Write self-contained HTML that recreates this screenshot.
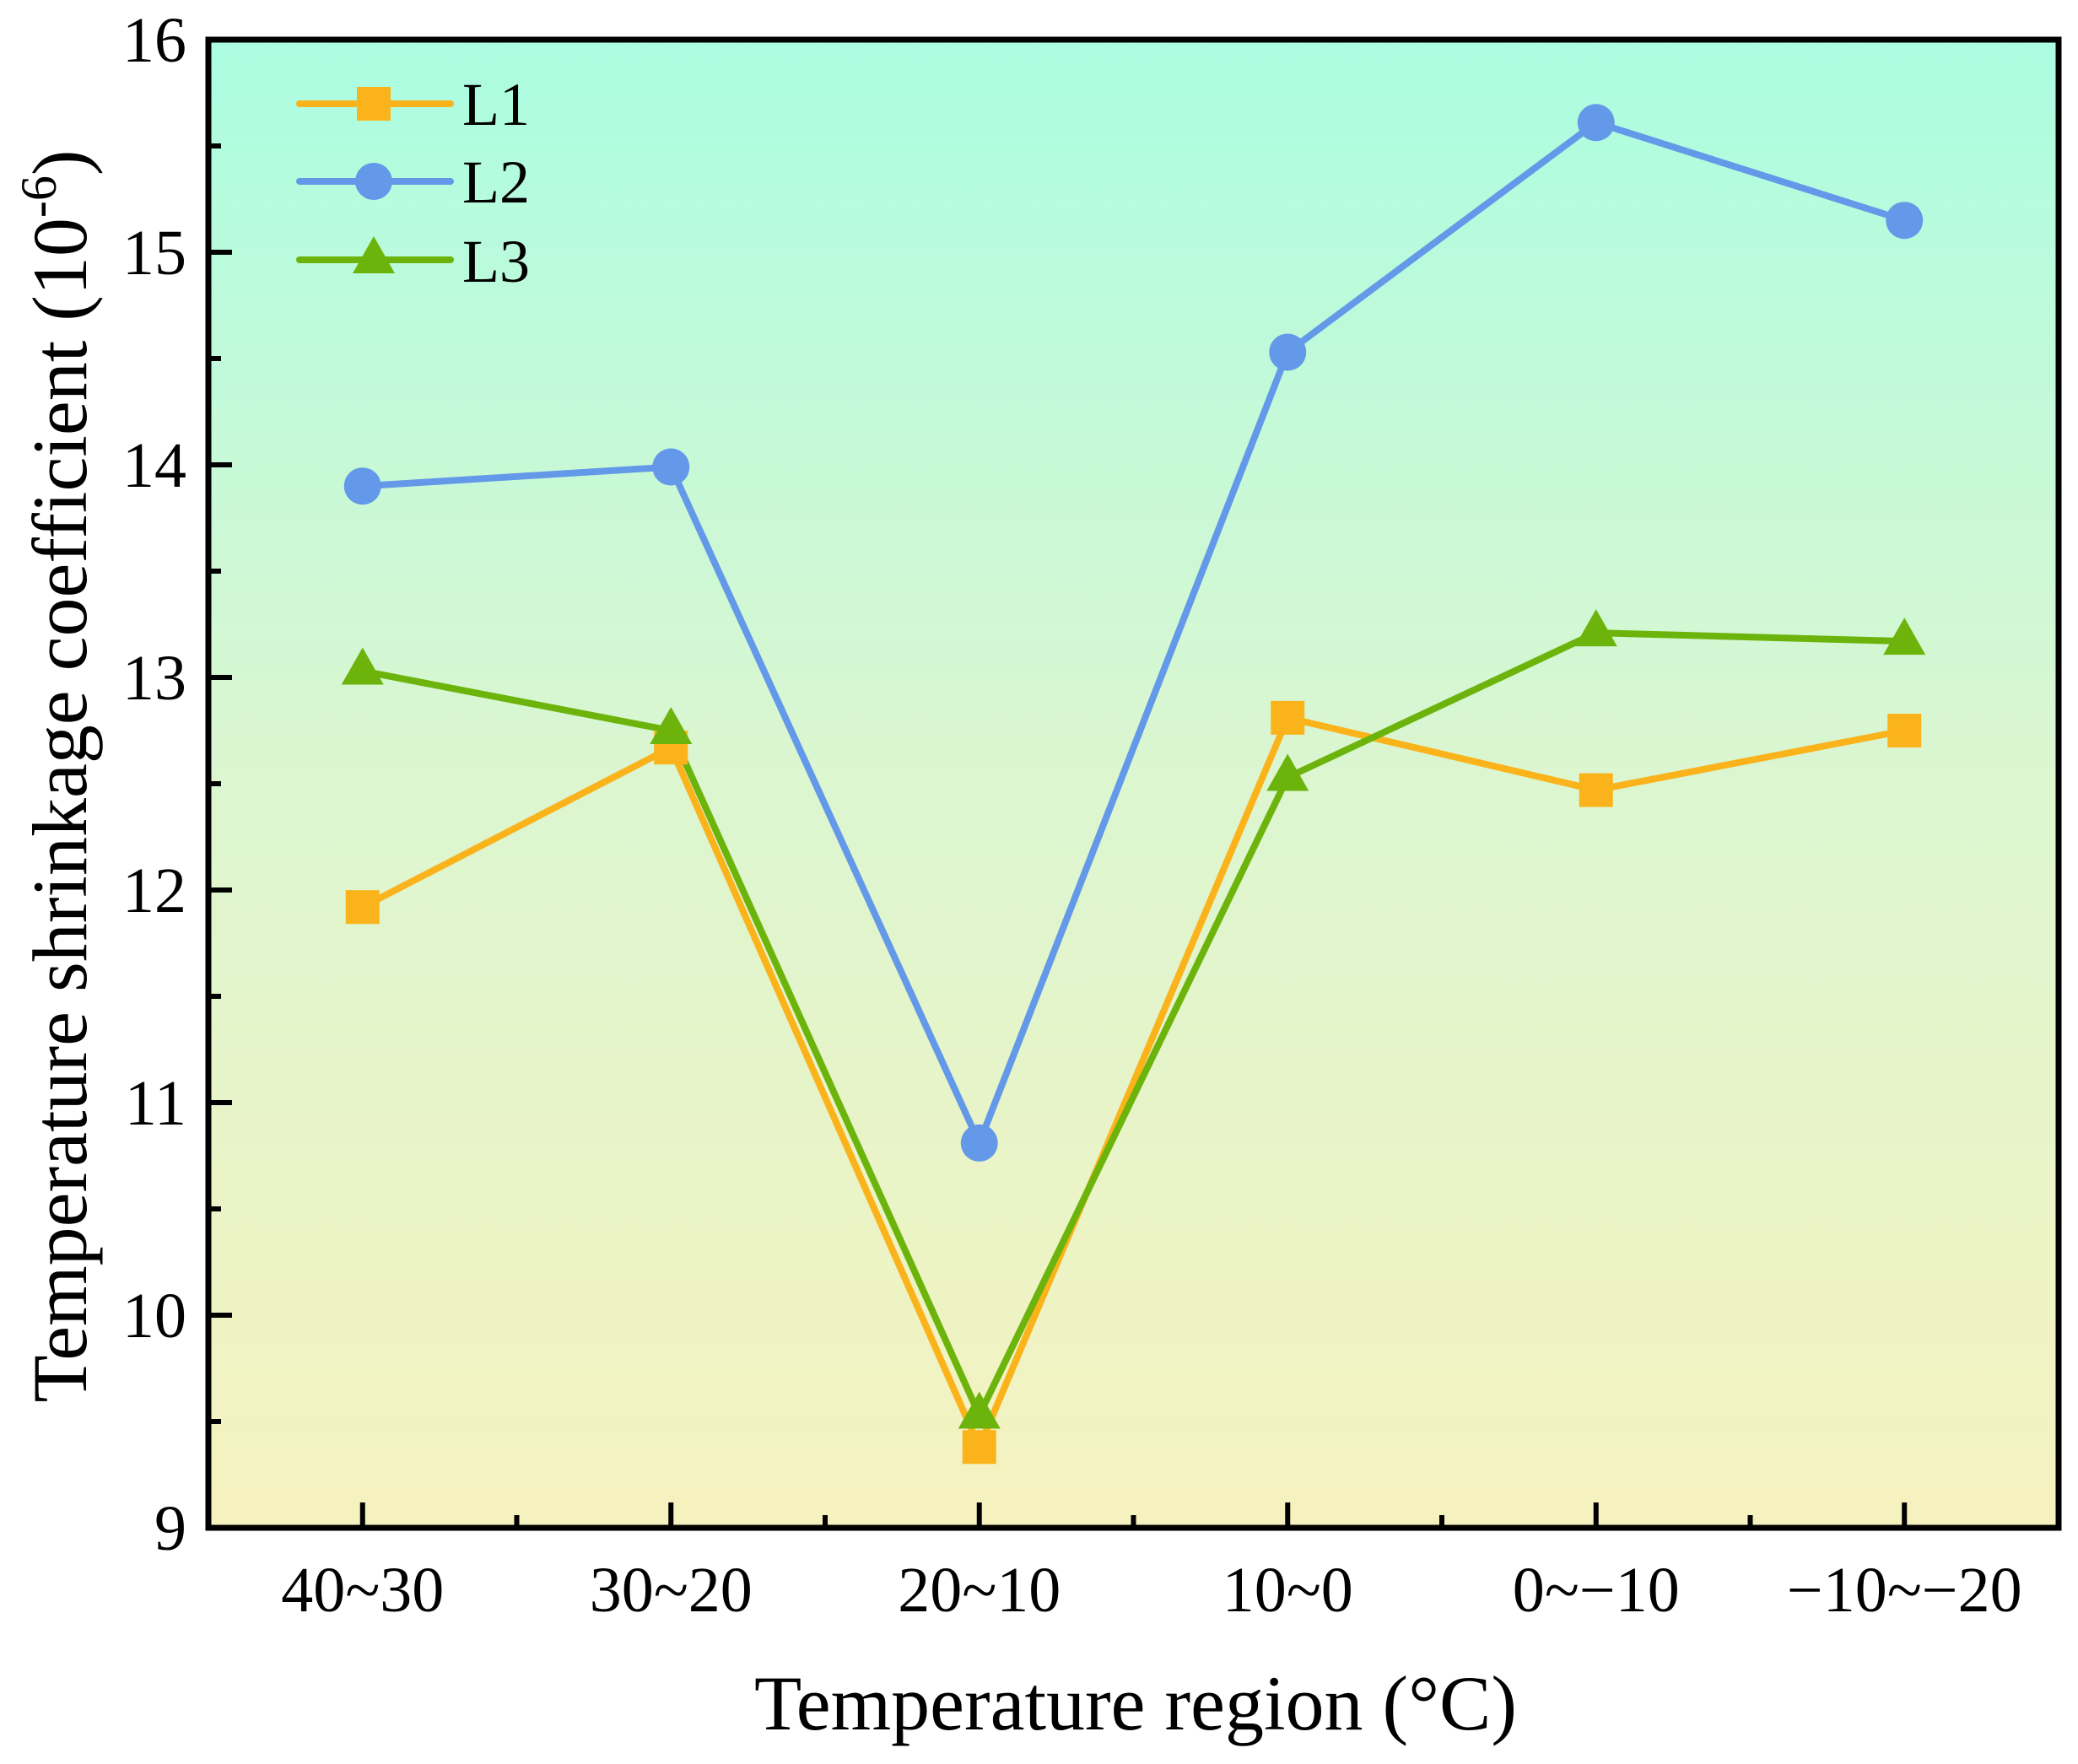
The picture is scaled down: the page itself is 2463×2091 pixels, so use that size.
<!DOCTYPE html>
<html><head><meta charset="utf-8"><style>
html,body{margin:0;padding:0;background:#fff;}
svg{display:block;font-family:"Liberation Serif",serif;}
</style></head><body>
<svg id="chart" width="2463" height="2091" viewBox="0 0 2463 2091" xmlns="http://www.w3.org/2000/svg">
<defs>
<linearGradient id="bg" x1="0" y1="0" x2="0" y2="1">
<stop offset="0" stop-color="#abfde1"/>
<stop offset="0.5" stop-color="#dcf6d0"/>
<stop offset="1" stop-color="#f6f2bf"/>
</linearGradient>
</defs>
<rect x="247" y="47" width="2193" height="1764" fill="url(#bg)"/>
<g id="marks"></g>
<g id="axes"></g>
<text x="1346" y="2050" font-size="92" text-anchor="middle">Temperature region (°C)</text>
<text transform="translate(102,920) rotate(-90)" font-size="92" text-anchor="middle">Temperature shrinkage coefficient (10<tspan font-size="60" dy="-36">-6</tspan><tspan dy="36">)</tspan></text>
<g>
<line x1="355" y1="123" x2="534" y2="123" stroke="#fbb31c" stroke-width="8" stroke-linecap="round"/>
<rect x="423" y="103" width="40" height="40" fill="#fbb31c"/>
<text x="548" y="148" font-size="72">L1</text>
<line x1="355" y1="215" x2="534" y2="215" stroke="#6399e8" stroke-width="8" stroke-linecap="round"/>
<circle cx="443" cy="215" r="22" fill="#6399e8"/>
<text x="548" y="240" font-size="72">L2</text>
<line x1="355" y1="308" x2="534" y2="308" stroke="#6cb40c" stroke-width="8" stroke-linecap="round"/>
<polygon points="443,280 418,324 468,324" fill="#6cb40c"/>
<text x="548" y="334" font-size="72">L3</text>
</g>
</svg>
<script>
const categories = ["40~30","30~20","20~10","10~0","0~\u221210","\u221210~\u221220"];
const l1Values = [11.92, 12.67, 9.38, 12.81, 12.47, 12.75];
const l2Values = [13.90, 13.99, 10.81, 14.53, 15.61, 15.15];
const l3Values = [13.03, 12.75, 9.53, 12.53, 13.21, 13.17];
const yTicks = [9,10,11,12,13,14,15,16];

const L=247,R=2440,T=47,B=1811;
function xs(i){return L+(i+0.5)/categories.length*(R-L);}
function ys(v){return B-(v-9)/(16-9)*(B-T);}
const NS="http://www.w3.org/2000/svg";
function mk(tag,attrs,parent){const e=document.createElementNS(NS,tag);for(const k in attrs)e.setAttribute(k,attrs[k]);parent.appendChild(e);return e;}
const marks=document.getElementById('marks'), axes=document.getElementById('axes');

const series=[{n:'l1',v:l1Values,c:'#fbb31c',m:'square'},{n:'l2',v:l2Values,c:'#6399e8',m:'circle'},{n:'l3',v:l3Values,c:'#6cb40c',m:'triangle'}];
series.forEach(s=>{
  const pts=s.v.map((v,i)=>xs(i)+','+ys(v)).join(' ');
  const pl=mk('polyline',{points:pts,fill:'none',stroke:s.c,'stroke-width':8,'stroke-linejoin':'round'},marks);
  
  
});
series.forEach(s=>{
  s.v.forEach((v,i)=>{
    const x=xs(i),y=ys(v);let e;
    if(s.m==='square') e=mk('rect',{x:x-20,y:y-20,width:40,height:40,fill:s.c},marks);
    else if(s.m==='circle') e=mk('circle',{cx:x,cy:y,r:22,fill:s.c},marks);
    else e=mk('polygon',{points:`${x},${y-28} ${x-25},${y+16} ${x+25},${y+16}`,fill:s.c},marks);
    
    
  });
});

const frame=mk('rect',{x:L,y:T,width:R-L,height:B-T,fill:'none',stroke:'#000','stroke-width':7},axes);


yTicks.forEach((t,k)=>{
  const y=ys(t);
  mk('line',{x1:L,y1:y,x2:L+28,y2:y,stroke:'#000','stroke-width':6},axes);
  if(k<yTicks.length-1){const ym=ys(t+0.5);mk('line',{x1:L,y1:ym,x2:L+15,y2:ym,stroke:'#000','stroke-width':6},axes);}
  const tx=mk('text',{x:L-26,y:y+26,'font-size':76,'text-anchor':'end'},axes);
  tx.textContent=t;
  
  
});
categories.forEach((c,i)=>{
  const x=xs(i);
  mk('line',{x1:x,y1:B,x2:x,y2:B-30,stroke:'#000','stroke-width':6},axes);
  if(i<categories.length-1){const xm=xs(i+0.5);mk('line',{x1:xm,y1:B,x2:xm,y2:B-15,stroke:'#000','stroke-width':6},axes);}
  const tx=mk('text',{x:x,y:1910,'font-size':76,'text-anchor':'middle'},axes);
  tx.textContent=c;
  
  
});
</script>
</body></html>
